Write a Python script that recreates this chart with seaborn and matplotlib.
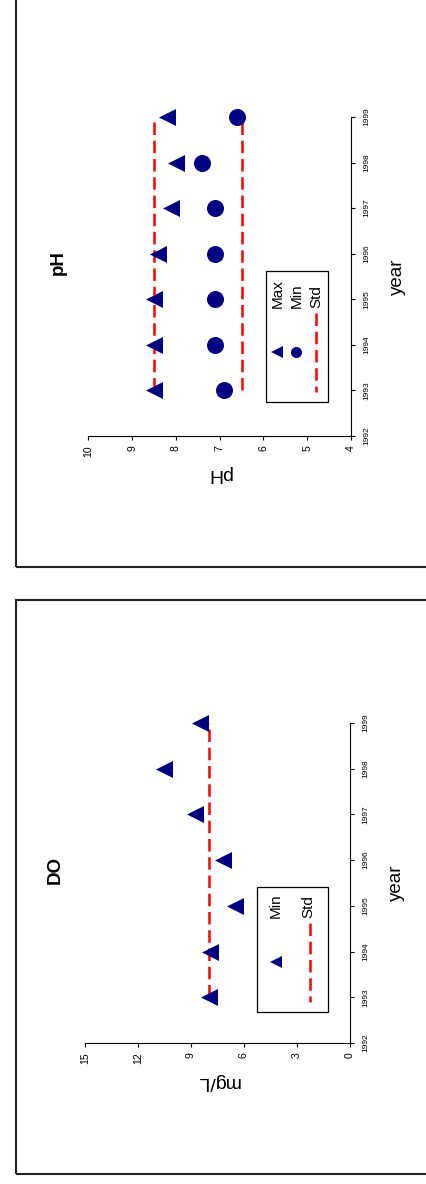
import matplotlib
matplotlib.use("Agg")
import matplotlib.pyplot as plt
from matplotlib.patches import Rectangle
from matplotlib.lines import Line2D
import seaborn as sns

# ---------------- data ----------------
years = [1993, 1994, 1995, 1996, 1997, 1998, 1999]
do_min = [8.0, 7.9, 6.5, 7.2, 8.8, 10.5, 8.5]
do_std = [8.0, 8.0, 8.0, 8.0, 8.0, 8.0, 8.0]
ph_max = [8.5, 8.5, 8.5, 8.4, 8.1, 8.0, 8.2]
ph_min = [6.9, 7.1, 7.1, 7.1, 7.1, 7.4, 6.6]
ph_std_high = [8.5, 8.5, 8.5, 8.5, 8.5, 8.5, 8.5]
ph_std_low = [6.5, 6.5, 6.5, 6.5, 6.5, 6.5, 6.5]
year_ticks = [1992, 1993, 1994, 1995, 1996, 1997, 1998, 1999]
do_ticks = [0, 3, 6, 9, 12, 15]
ph_ticks = [4, 5, 6, 7, 8, 9, 10]

# ---------------- style ----------------
plt.rcParams['font.family'] = ['Liberation Sans', 'DejaVu Sans']
plt.rcParams['text.color'] = 'black'

W, H = 427, 1184
fig = plt.figure(figsize=(W / 100, H / 100), dpi=100)
fig.patch.set_facecolor('white')

NAVY = '#000080'
RED = '#FF0000'
DASH = (0, (5, 2.3))


def fx(x):
    return x / W


def fy(y):
    return 1 - y / H


def frame(x0, y0, x1, y1):
    fig.add_artist(Rectangle((fx(x0), fy(y1)), fx(x1) - fx(x0), fy(y0) - fy(y1),
                             transform=fig.transFigure, fill=False, lw=1.5,
                             ec='#222222'))


def make_ax(l, t, r, b):
    return fig.add_axes([fx(l), fy(b), fx(r) - fx(l), fy(t) - fy(b)])


# panel frames
frame(16, -30, 460, 567)
frame(16, 600, 460, 1174)

ax_ph = make_ax(88.3, 117, 351, 436)
ax_do = make_ax(85, 723, 350, 1043)


def style(ax, xlim, xticks, xlabel, title, title_xy):
    ax.set_facecolor('none')
    ax.set_xlim(*xlim)
    ax.set_ylim(1992, 1999)
    for s in ['top', 'left']:
        ax.spines[s].set_visible(False)
    for s in ['bottom', 'right']:
        ax.spines[s].set_color('black')
        ax.spines[s].set_linewidth(0.8)
    ax.yaxis.tick_right()
    ax.tick_params(axis='x', bottom=True, top=False, length=3, width=0.8,
                   pad=3.5, direction='out', colors='black')
    ax.tick_params(axis='y', left=False, right=True, labelleft=False,
                   labelright=True, length=3, width=0.8, pad=6,
                   direction='out', colors='black')
    ax.set_xticks(xticks, [str(t) for t in xticks], rotation=90,
                  fontsize=7.5, ha='center', va='top')
    ax.set_yticks(year_ticks, [str(y) for y in year_ticks], rotation=90,
                  fontsize=6, ha='left', va='center')
    ax.set_xlabel(xlabel, fontsize=14, rotation=180)
    ax.xaxis.set_label_coords(0.5, -0.119)
    ax.xaxis.label.set_va('center')
    ax.set_ylabel('year', fontsize=13.5, rotation=90)
    ax.yaxis.set_label_position('right')
    ax.yaxis.set_label_coords(1.176, 0.5)
    ax.yaxis.label.set_va('center')
    ax.set_title(title, x=title_xy[0], y=title_xy[1], rotation=90,
                 fontsize=13.5, fontweight='bold', va='center', ha='center',
                 pad=0)


# ---------------- pH panel ----------------
sns.lineplot(x=ph_std_high, y=years, sort=False, estimator=None, color=RED,
             lw=1.8, linestyle=DASH, ax=ax_ph, zorder=2)
sns.lineplot(x=ph_std_low, y=years, sort=False, estimator=None, color=RED,
             lw=1.8, linestyle=DASH, ax=ax_ph, zorder=2)
sns.scatterplot(x=ph_max, y=years, marker='<', s=150, color=NAVY,
                linewidth=0, ax=ax_ph, zorder=3, legend=False, clip_on=False)
sns.scatterplot(x=ph_min, y=years, marker='o', s=150, color=NAVY,
                linewidth=0, ax=ax_ph, zorder=3, legend=False, clip_on=False)
style(ax_ph, (10, 4), ph_ticks, 'pH', 'pH', (-0.115, 0.545))

# ---------------- DO panel ----------------
sns.lineplot(x=do_std, y=years, sort=False, estimator=None, color=RED,
             lw=1.8, linestyle=DASH, ax=ax_do, zorder=2)
sns.scatterplot(x=do_min, y=years, marker='<', s=150, color=NAVY,
                linewidth=0, ax=ax_do, zorder=3, legend=False, clip_on=False)
style(ax_do, (15, 0), do_ticks, 'mg/L', 'DO', (-0.113, 0.541))


# ---------------- legends (rotated, drawn by hand) ----------------
def legend_box(x0, y0, x1, y1):
    fig.add_artist(Rectangle((fx(x0), fy(y1)), fx(x1) - fx(x0), fy(y0) - fy(y1),
                             transform=fig.transFigure, fc='white',
                             ec='black', lw=0.9, zorder=4))


def legend_marker(x, y, marker):
    fig.add_artist(Line2D([fx(x)], [fy(y)], marker=marker, ms=8, color=NAVY,
                          mew=0, ls='none', transform=fig.transFigure,
                          zorder=5))


def legend_line(x, y0, y1):
    fig.add_artist(Line2D([fx(x), fx(x)], [fy(y0), fy(y1)], color=RED, lw=1.8,
                          linestyle=DASH, transform=fig.transFigure, zorder=5))


def legend_text(x_base, y_start, label):
    fig.text(fx(x_base), fy(y_start), label, rotation=90,
             rotation_mode='anchor', ha='left', va='baseline', fontsize=11,
             zorder=6)


# pH legend
legend_box(266, 271, 328, 402)
legend_marker(277, 352, '<')
legend_text(282, 308, 'Max')
legend_marker(296.5, 352, 'o')
legend_text(300.5, 308, 'Min')
legend_line(316, 313, 392)
legend_text(320, 308, 'Std')

# DO legend
legend_box(257.5, 887, 328, 1011.5)
legend_marker(275.5, 962, '<')
legend_text(280, 918, 'Min')
legend_line(310, 923, 1002)
legend_text(312, 918, 'Std')

fig.savefig('out.png', dpi=100, facecolor='white')
